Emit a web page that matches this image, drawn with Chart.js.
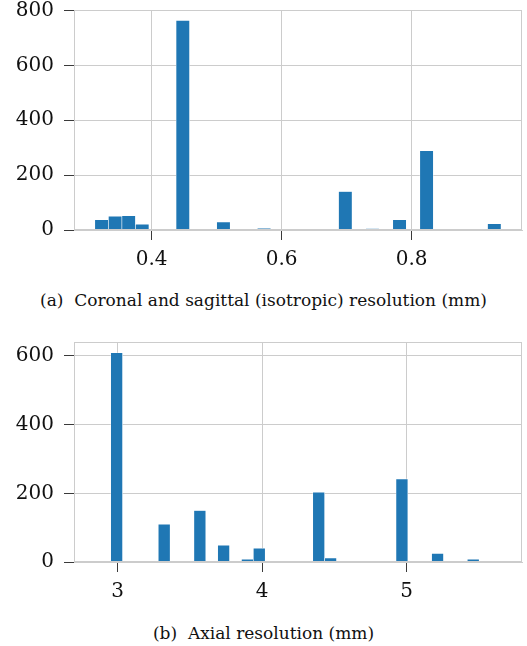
<!DOCTYPE html>
<html>
<head>
<meta charset="utf-8">
<script src="https://cdn.jsdelivr.net/npm/chart.js@4/dist/chart.umd.min.js"></script>
<style>
  body { margin: 0; background: #fff; width: 527px; height: 646px; position: relative; overflow: hidden; }
  .box { position: absolute; left: 0; width: 527px; height: 280px; }
  .caption { position: absolute; left: 0; width: 527px; text-align: center; font-family: "DejaVu Serif", serif; font-size: 17px; color: #111; white-space: pre; }
</style>
</head>
<body>
<div class="box" style="top:0"><canvas id="chartA"></canvas></div>
<div class="caption" style="top:290px">(a)  Coronal and sagittal (isotropic) resolution (mm)</div>
<div class="box" style="top:330px"><canvas id="chartB"></canvas></div>
<div class="caption" style="top:623px">(b)  Axial resolution (mm)</div>
<script>
// (a) srodki przedzialow i licznosci
const binsA = [0.3229, 0.3438, 0.3646, 0.3854, 0.4063, 0.4271, 0.4479, 0.4688, 0.4896, 0.5104,
               0.5313, 0.5521, 0.5729, 0.5938, 0.6146, 0.6354, 0.6563, 0.6771, 0.6979, 0.7188,
               0.7396, 0.7604, 0.7813, 0.8021, 0.8229, 0.8438, 0.8646, 0.8854, 0.9063, 0.9271];
const countsA = [37, 50, 52, 21, 0, 3, 764, 0, 1, 29,
                 0, 1, 6, 0, 0, 1, 1, 0, 140, 0,
                 5, 0, 37, 0, 289, 1, 0, 1, 0, 23];
const xTicksA = [0.4, 0.6, 0.8];
const yTicksA = [0, 200, 400, 600, 800];

// (b)
const binsB = [2.9927, 3.0750, 3.1572, 3.2395, 3.3218, 3.4040, 3.4863, 3.5685, 3.6508, 3.7331,
               3.8153, 3.8976, 3.9798, 4.0621, 4.1444, 4.2266, 4.3089, 4.3911, 4.4734, 4.5557,
               4.6379, 4.7202, 4.8024, 4.8847, 4.9670, 5.0492, 5.1315, 5.2137, 5.2960, 5.3783, 5.4605];
const countsB = [609, 0, 0, 0, 110, 0, 0, 150, 0, 49,
                 0, 8, 40, 0, 0, 0, 3, 203, 12, 0,
                 0, 0, 0, 0, 242, 0, 0, 25, 0, 0, 8];
const xTicksB = [3, 4, 5];
const yTicksB = [0, 200, 400, 600];

const gridColor = '#cccccc';
const tickColor = '#3a3a3a';
const font = { family: 'DejaVu Serif', size: 20 };

// ramka wokol obszaru wykresu
const framePlugin = {
    id: 'frame',
    afterDraw(chart) {
        const a = chart.chartArea;
        const ctx = chart.ctx;
        ctx.save();
        ctx.strokeStyle = gridColor;
        ctx.lineWidth = 1;
        ctx.strokeRect(a.left + 0.5, a.top + 0.5, a.right - a.left - 1, a.bottom - a.top - 1);
        ctx.restore();
    }
};

function makeChart(id, bins, counts, xTicks, yTicks, xMin, xMax, yMax, padTop, xHeight) {
    return new Chart(document.getElementById(id), {
        type: 'bar',
        data: {
            datasets: [{
                data: bins.map((b, i) => ({ x: b, y: counts[i] })),
                backgroundColor: '#1f77b4',
                borderColor: 'rgba(255,255,255,0.85)',
                borderWidth: 0.6,
                barPercentage: 1,
                categoryPercentage: 1
            }]
        },
        options: {
            responsive: true,
            maintainAspectRatio: false,
            animation: false,
            layout: { padding: { top: padTop, right: 5, left: 0, bottom: 0 } },
            plugins: { legend: { display: false }, tooltip: { enabled: false } },
            scales: {
                x: {
                    type: 'linear',
                    offset: false,
                    min: xMin,
                    max: xMax,
                    afterBuildTicks: scale => { scale.ticks = xTicks.map(v => ({ value: v })); },
                    afterFit: scale => { scale.height = xHeight; scale.paddingLeft = 0; scale.paddingRight = 0; },
                    ticks: { font: font, color: '#111', padding: 8, callback: v => String(v) },
                    grid: { offset: false, color: gridColor, tickColor: tickColor, tickLength: 10, lineWidth: 1 },
                    border: { color: gridColor }
                },
                y: {
                    min: 0,
                    max: yMax,
                    afterBuildTicks: scale => { scale.ticks = yTicks.map(v => ({ value: v })); },
                    afterFit: scale => { scale.width = 74; scale.paddingTop = 0; scale.paddingBottom = 0; },
                    ticks: { font: font, color: '#111', padding: 10, callback: v => String(v) },
                    grid: { color: gridColor, tickColor: tickColor, tickLength: 10, lineWidth: 1 },
                    border: { color: gridColor }
                }
            }
        },
        plugins: [framePlugin]
    });
}

makeChart('chartA', binsA, countsA, xTicksA, yTicksA, 0.2805, 0.9697, 802, 10, 50);
makeChart('chartB', binsB, countsB, xTicksB, yTicksB, 2.6976, 5.798, 640.5, 12, 48);
</script>
</body>
</html>
